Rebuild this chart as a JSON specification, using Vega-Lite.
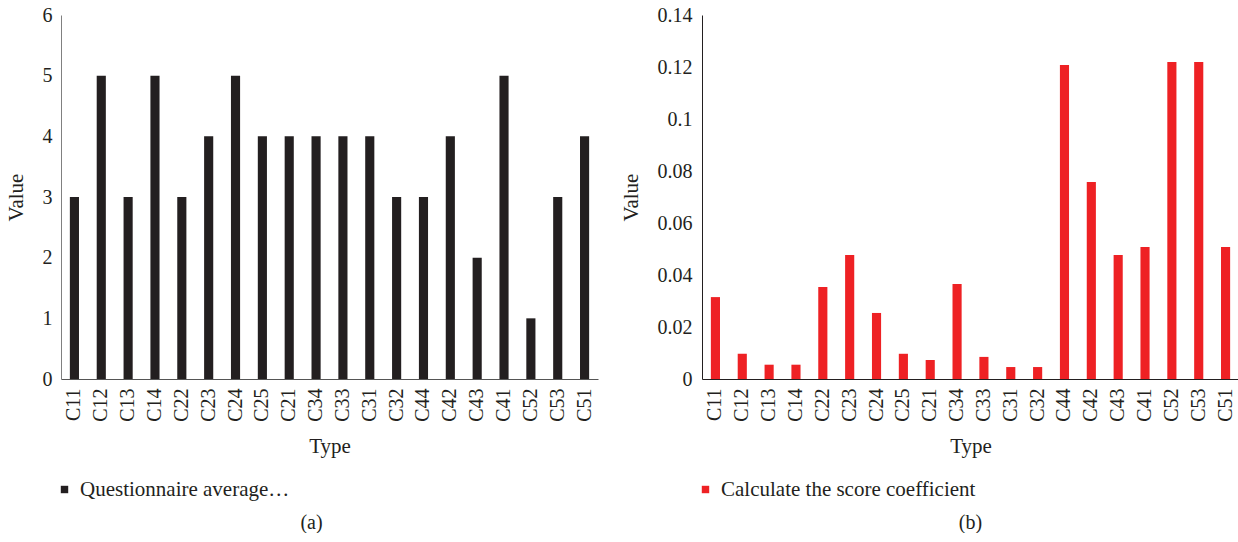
{
  "$schema": "https://vega.github.io/schema/vega-lite/v6.json",
  "padding": {"left": 5, "top": 5, "right": 0, "bottom": 0},
  "background": "white",
  "config": {
    "font": "Liberation Serif",
    "view": {"stroke": null},
    "axis": {"labelFont": "Liberation Serif", "titleFont": "Liberation Serif", "labelFontSize": 20, "titleFontSize": 21, "labelColor": "#231f20", "titleColor": "#231f20", "titleFontWeight": "normal", "ticks": false, "grid": false},
    "legend": {"labelFont": "Liberation Serif", "labelFontSize": 21, "labelColor": "#231f20", "labelLimit": 0, "padding": 0},
    "title": {"font": "Liberation Serif", "fontSize": 21, "fontWeight": "normal", "color": "#231f20"}
  },
  "datasets": {
    "a": [
      {"type": "C11", "value": 3}, {"type": "C12", "value": 5}, {"type": "C13", "value": 3}, {"type": "C14", "value": 5},
      {"type": "C22", "value": 3}, {"type": "C23", "value": 4}, {"type": "C24", "value": 5}, {"type": "C25", "value": 4},
      {"type": "C21", "value": 4}, {"type": "C34", "value": 4}, {"type": "C33", "value": 4}, {"type": "C31", "value": 4},
      {"type": "C32", "value": 3}, {"type": "C44", "value": 3}, {"type": "C42", "value": 4}, {"type": "C43", "value": 2},
      {"type": "C41", "value": 5}, {"type": "C52", "value": 1}, {"type": "C53", "value": 3}, {"type": "C51", "value": 4}
    ],
    "b": [
      {"type": "C11", "value": 0.0315}, {"type": "C12", "value": 0.0097}, {"type": "C13", "value": 0.0055}, {"type": "C14", "value": 0.0055},
      {"type": "C22", "value": 0.0354}, {"type": "C23", "value": 0.0477}, {"type": "C24", "value": 0.0254}, {"type": "C25", "value": 0.0097},
      {"type": "C21", "value": 0.0073}, {"type": "C34", "value": 0.0365}, {"type": "C33", "value": 0.0085}, {"type": "C31", "value": 0.0046},
      {"type": "C32", "value": 0.0046}, {"type": "C44", "value": 0.1208}, {"type": "C42", "value": 0.0758}, {"type": "C43", "value": 0.0477},
      {"type": "C41", "value": 0.0508}, {"type": "C52", "value": 0.1219}, {"type": "C53", "value": 0.1219}, {"type": "C51", "value": 0.0508}
    ]
  },
  "hconcat": [
    {
      "data": {"name": "a"},
      "width": 537,
      "height": 364,
      "title": {"text": "(a)", "orient": "bottom", "anchor": "middle", "offset": 13, "fontSize": 20, "dx": -18},
      "transform": [{"calculate": "'Questionnaire average…'", "as": "series"}],
      "mark": {"type": "bar"},
      "encoding": {
        "x": {"field": "type", "type": "nominal", "sort": null, "title": "Type",
              "scale": {"paddingInner": 0.66, "paddingOuter": 0.33},
              "axis": {"labelAngle": -90, "labelAlign": "right", "labelBaseline": "middle", "labelPadding": 9, "labelFontSize": 20, "titleFontSize": 21, "domainColor": "#555555", "titlePadding": 14}},
        "y": {"field": "value", "type": "quantitative", "title": "Value",
              "scale": {"domain": [0, 6], "nice": false},
              "axis": {"values": [0, 1, 2, 3, 4, 5, 6], "labelPadding": 9, "labelFontSize": 20, "titleFontSize": 21, "domainColor": "#808080", "titlePadding": 16}},
        "color": {"field": "series", "type": "nominal", "scale": {"range": ["#231f20"]},
                  "legend": {"orient": "bottom", "title": null, "symbolType": "square", "symbolSize": 55, "symbolOffset": -7, "labelOffset": 5, "padding": 0, "offset": 22, "labelFontSize": 21, "labelLimit": 0}}
      }
    },
    {
      "data": {"name": "b"},
      "width": 537,
      "height": 364,
      "title": {"text": "(b)", "orient": "bottom", "anchor": "middle", "offset": 13, "fontSize": 20},
      "transform": [{"calculate": "'Calculate the score coefficient'", "as": "series"}],
      "mark": {"type": "bar"},
      "encoding": {
        "x": {"field": "type", "type": "nominal", "sort": null, "title": "Type",
              "scale": {"paddingInner": 0.66, "paddingOuter": 0.33},
              "axis": {"labelAngle": -90, "labelAlign": "right", "labelBaseline": "middle", "labelPadding": 9, "labelFontSize": 20, "titleFontSize": 21, "domainColor": "#231f20", "titlePadding": 14}},
        "y": {"field": "value", "type": "quantitative", "title": "Value",
              "scale": {"domain": [0, 0.14], "nice": false},
              "axis": {"values": [0, 0.02, 0.04, 0.06, 0.08, 0.1, 0.12, 0.14], "labelExpr": "datum.value == 0 ? '0' : format(datum.value, '.2~f')", "labelPadding": 10, "labelFontSize": 20, "titleFontSize": 21, "domainColor": "#231f20", "titlePadding": 16}},
        "color": {"field": "series", "type": "nominal", "scale": {"range": ["#ee2124"]},
                  "legend": {"orient": "bottom", "title": null, "symbolType": "square", "symbolSize": 55, "symbolOffset": -7, "labelOffset": 5, "padding": 0, "offset": 22, "labelFontSize": 21, "labelLimit": 0}}
      }
    }
  ],
  "resolve": {"scale": {"color": "independent"}},
  "spacing": 22
}
